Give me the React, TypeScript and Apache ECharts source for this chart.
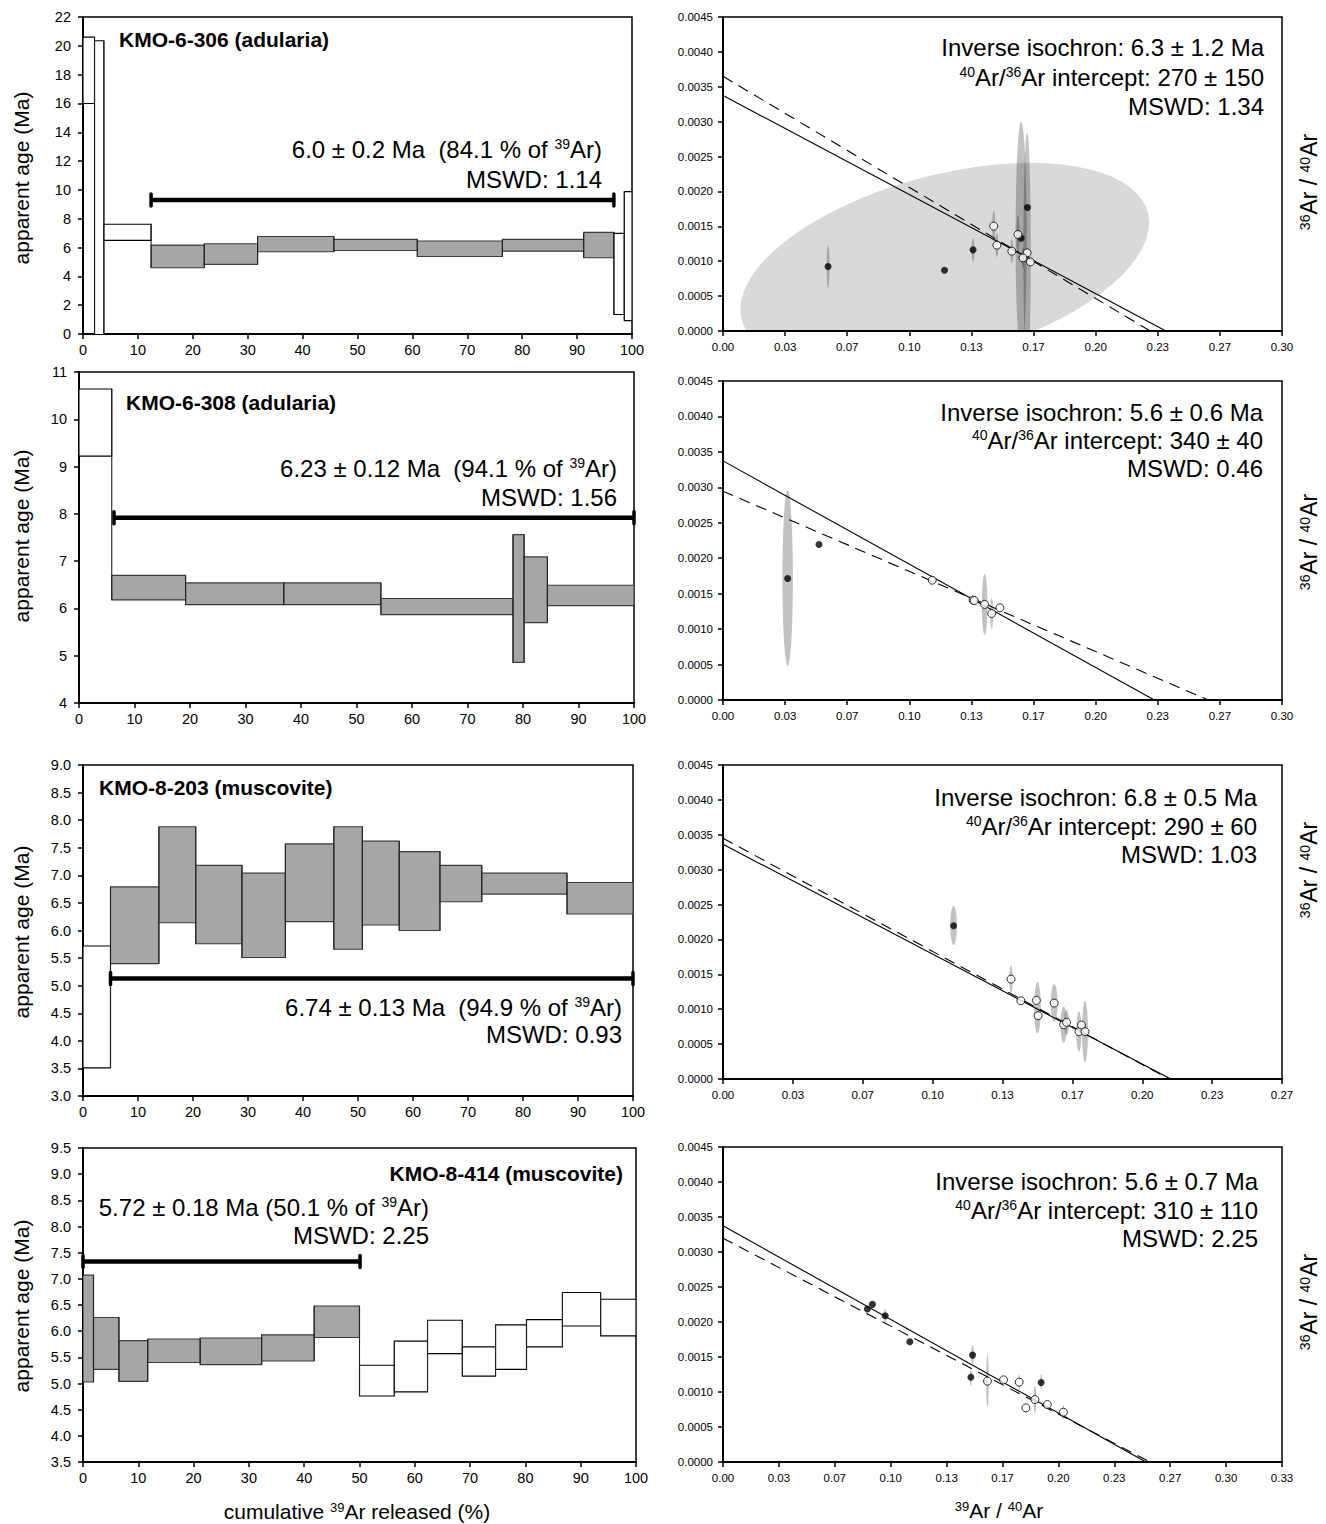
import React, { useEffect, useRef } from "react";
import * as echarts from "echarts";

const FONT = "'Liberation Sans', Arial, Helvetica, sans-serif";

// ---------------- Age spectra (cumulative 39Ar %, age bounds in Ma) ----------------
const s306Cum = [0, 2.1, 3.8, 12.4, 22.1, 31.8, 45.7, 60.9, 76.4, 91.2, 96.7, 98.6, 100];
const s306Low = [16.0, -0.5, 6.5, 4.6, 4.83, 5.71, 5.8, 5.38, 5.75, 5.29, 1.35, 0.93];
const s306High = [20.6, 20.35, 7.62, 6.17, 6.26, 6.77, 6.57, 6.45, 6.57, 7.05, 6.98, 9.88];
const s306InPlateau = [0, 0, 0, 1, 1, 1, 1, 1, 1, 1, 0, 0];
const s306Plateau = [12.4, 96.7, 9.3];

const s308Cum = [0, 5.9, 19.2, 36.9, 54.4, 78.2, 80.2, 84.4, 100];
const s308Low = [9.22, 6.18, 6.08, 6.08, 5.87, 4.86, 5.7, 6.06];
const s308High = [10.64, 6.7, 6.54, 6.54, 6.21, 7.56, 7.09, 6.49];
const s308InPlateau = [0, 1, 1, 1, 1, 1, 1, 1];
const s308Plateau = [6.3, 100, 7.92];

const s203Cum = [0, 5.0, 13.8, 20.5, 28.9, 36.8, 45.6, 50.8, 57.5, 64.9, 72.5, 88.0, 100];
const s203Low = [3.51, 5.4, 6.14, 5.76, 5.51, 6.16, 5.66, 6.1, 6.0, 6.52, 6.66, 6.3];
const s203High = [5.72, 6.79, 7.88, 7.18, 7.04, 7.57, 7.88, 7.62, 7.43, 7.18, 7.04, 6.87];
const s203InPlateau = [0, 1, 1, 1, 1, 1, 1, 1, 1, 1, 1, 1];
const s203Plateau = [5.0, 100, 5.13];

const s414Cum = [0, 1.9, 6.5, 11.7, 21.2, 32.3, 41.8, 50.0, 56.3, 62.3, 68.6, 74.6, 80.2, 86.7, 93.6, 100];
const s414Low = [5.03, 5.27, 5.04, 5.4, 5.36, 5.43, 5.88, 4.76, 4.84, 5.57, 5.14, 5.27, 5.7, 6.1, 5.91];
const s414High = [7.07, 6.26, 5.82, 5.85, 5.87, 5.93, 6.48, 5.35, 5.81, 6.21, 5.7, 6.12, 6.22, 6.74, 6.61];
const s414InPlateau = [1, 1, 1, 1, 1, 1, 1, 0, 0, 0, 0, 0, 0, 0, 0];
const s414Plateau = [0, 50.1, 7.33];

// ---------------- Inverse isochrons (39Ar/40Ar, 36Ar/40Ar) ----------------
// ellipses: [cx, cy, halfWidthX, halfHeightY, correlation]
const i306Wide = [[0.119, 0.00093, 0.1097, 0.00148, 0.42]];
const i306Ellipses = [
  [0.16, 0.00133, 0.003, 0.00167, 0],
  [0.1632, 0.00112, 0.002, 0.00172, 0],
  [0.0564, 0.000924, 0.0008, 0.0003, 0],
  [0.1342, 0.001163, 0.0008, 0.00017, 0],
  [0.1453, 0.001503, 0.0008, 0.00022, 0],
  [0.147, 0.00123, 0.0008, 0.00017, 0],
  [0.155, 0.001144, 0.0008, 0.00017, 0],
  [0.1583, 0.001383, 0.0008, 0.00028, 0],
  [0.161, 0.001048, 0.0008, 0.00015, 0],
];
const i306Filled = [[0.0564, 0.000924], [0.1189, 0.000871], [0.1342, 0.001163], [0.16, 0.001331], [0.1634, 0.001771]];
const i306Open = [[0.1453, 0.001503], [0.147, 0.00123], [0.155, 0.001144], [0.1583, 0.001383], [0.1632, 0.00112], [0.161, 0.001048], [0.165, 0.00099]];
const i306Fit = [[0, 0.003375], [0.2377, 0]];
const i306Ref = [[0, 0.00365], [0.2293, 0]];

const i308Ellipses = [
  [0.0347, 0.00172, 0.0028, 0.00124, 0],
  [0.1404, 0.00135, 0.0015, 0.00043, 0],
  [0.1442, 0.00122, 0.0008, 0.00022, 0],
];
const i308Filled = [[0.0347, 0.001714], [0.0515, 0.002194]];
const i308Open = [[0.1123, 0.00169], [0.1342, 0.00141], [0.1349, 0.001402], [0.1404, 0.001348], [0.1442, 0.001221], [0.1486, 0.001301]];
const i308Fit = [[0, 0.003373], [0.2315, 0]];
const i308Ref = [[0, 0.002945], [0.2604, 0]];

const i203Ellipses = [
  [0.11, 0.0022, 0.0016, 0.00028, 0],
  [0.1374, 0.00143, 0.0008, 0.0002, 0],
  [0.15, 0.00102, 0.0016, 0.00037, 0],
  [0.158, 0.00109, 0.0016, 0.00027, 0],
  [0.1625, 0.00078, 0.0015, 0.00026, 0],
  [0.1639, 0.00081, 0.0012, 0.00018, 0],
  [0.1698, 0.00068, 0.0012, 0.00029, 0],
  [0.1727, 0.00068, 0.0014, 0.00044, 0],
];
const i203Filled = [[0.11, 0.002195]];
const i203Open = [[0.1374, 0.001432], [0.1421, 0.001121], [0.1495, 0.001126], [0.1503, 0.000907], [0.158, 0.001088], [0.1625, 0.000778], [0.1639, 0.000811], [0.1698, 0.000678], [0.171, 0.000773], [0.1727, 0.000678]];
const i203Fit = [[0, 0.003364], [0.2136, 0]];
const i203Ref = [[0, 0.00345], [0.2128, 0]];

const i414Ellipses = [
  [0.1577, 0.00116, 0.0008, 0.00037, 0],
  [0.1488, 0.00153, 0.0008, 0.00014, 0],
  [0.186, 0.00089, 0.0008, 0.0002, 0],
  [0.1766, 0.00114, 0.0006, 0.00011, 0],
  [0.1897, 0.00114, 0.0006, 0.00012, 0],
  [0.1478, 0.00121, 0.0006, 0.00012, 0],
  [0.0967, 0.00209, 0.0006, 0.0001, 0],
  [0.203, 0.00071, 0.0006, 0.0001, 0],
];
const i414Filled = [[0.0861, 0.002186], [0.0891, 0.002252], [0.0967, 0.00209], [0.1114, 0.001718], [0.1488, 0.001527], [0.1478, 0.001212], [0.1897, 0.001136]];
const i414Open = [[0.1577, 0.001155], [0.1673, 0.001174], [0.1766, 0.001141], [0.1806, 0.000773], [0.186, 0.000892], [0.1934, 0.000821], [0.203, 0.000711]];
const i414Fit = [[0, 0.003374], [0.2522, 0]];
const i414Ref = [[0, 0.003197], [0.2546, 0]];

// ---------------- Axis tick setup ----------------
const spectrumYRange = [[0, 22, 2, 0], [4, 11, 1, 0], [3, 9, 0.5, 1], [3.5, 9.5, 0.5, 1]];
const isoXMax = [9 / 30, 9 / 30, 8 / 30, 10 / 30];
const isoXStep = 1 / 30;

// ---------------- Texts ----------------
const sampleNames = ["KMO-6-306 (adularia)", "KMO-6-308 (adularia)", "KMO-8-203 (muscovite)", "KMO-8-414 (muscovite)"];
const plateauTexts = [
  ["6.0 ± 0.2 Ma  (84.1 % of {s|39}Ar)", "MSWD: 1.14"],
  ["6.23 ± 0.12 Ma  (94.1 % of {s|39}Ar)", "MSWD: 1.56"],
  ["6.74 ± 0.13 Ma  (94.9 % of {s|39}Ar)", "MSWD: 0.93"],
  ["5.72 ± 0.18 Ma (50.1 % of {s|39}Ar)", "MSWD: 2.25"],
];
const isoTexts = [
  ["Inverse isochron: 6.3 ± 1.2 Ma", "{s|40}Ar/{s|36}Ar intercept: 270 ± 150", "MSWD: 1.34"],
  ["Inverse isochron: 5.6 ± 0.6 Ma", "{s|40}Ar/{s|36}Ar intercept: 340 ± 40", "MSWD: 0.46"],
  ["Inverse isochron: 6.8 ± 0.5 Ma", "{s|40}Ar/{s|36}Ar intercept: 290 ± 60", "MSWD: 1.03"],
  ["Inverse isochron: 5.6 ± 0.7 Ma", "{s|40}Ar/{s|36}Ar intercept: 310 ± 110", "MSWD: 2.25"],
];

const spectra = [
  { cum: s306Cum, low: s306Low, high: s306High, inP: s306InPlateau, plateau: s306Plateau },
  { cum: s308Cum, low: s308Low, high: s308High, inP: s308InPlateau, plateau: s308Plateau },
  { cum: s203Cum, low: s203Low, high: s203High, inP: s203InPlateau, plateau: s203Plateau },
  { cum: s414Cum, low: s414Low, high: s414High, inP: s414InPlateau, plateau: s414Plateau },
];
const isochrons = [
  { ell: i306Ellipses, wide: i306Wide, filled: i306Filled, open: i306Open, fit: i306Fit, ref: i306Ref },
  { ell: i308Ellipses, wide: [], filled: i308Filled, open: i308Open, fit: i308Fit, ref: i308Ref },
  { ell: i203Ellipses, wide: [], filled: i203Filled, open: i203Open, fit: i203Fit, ref: i203Ref },
  { ell: i414Ellipses, wide: [], filled: i414Filled, open: i414Open, fit: i414Fit, ref: i414Ref },
];

// ---------------- Layout (pixels) ----------------
const LEFT_GRIDS = [
  { left: 83, top: 17, width: 549, height: 317 },
  { left: 79, top: 372, width: 555, height: 331 },
  { left: 83, top: 765, width: 550, height: 331 },
  { left: 83, top: 1148, width: 553, height: 314 },
];
const RIGHT_GRIDS = [
  { left: 723, top: 17, width: 559, height: 314 },
  { left: 723, top: 381, width: 559, height: 319 },
  { left: 723, top: 765, width: 559, height: 314 },
  { left: 723, top: 1147, width: 559, height: 315 },
];
const TITLE_POS = [
  { x: 119, y: 39, align: "left" },
  { x: 126, y: 402, align: "left" },
  { x: 99, y: 787, align: "left" },
  { x: 623, y: 1173, align: "right" },
];
const PLATEAU_TEXT_POS = [
  { x: 602, y: [149, 179] },
  { x: 617, y: [468, 497] },
  { x: 622, y: [1007, 1034] },
  { x: 429, y: [1207, 1235] },
];
const ISO_TEXT_POS = [
  { x: 1264, y: [47, 77, 106] },
  { x: 1263, y: [412, 440, 468] },
  { x: 1257, y: [797, 826, 854] },
  { x: 1258, y: [1181, 1210, 1238] },
];
const LEFT_NAME_Y = [178, 536, 932, 1306];
const RIGHT_NAME_Y = [182, 542, 870, 1302];

function txt(x: number, y: number, text: string, size: number, opts: any = {}) {
  const align = opts.align || "left";
  return {
    type: "text",
    x,
    y,
    rotation: opts.rotation || 0,
    silent: true,
    z: 100,
    style: {
      text,
      fill: "#000",
      fontSize: size,
      fontFamily: FONT,
      fontWeight: opts.bold ? "bold" : "normal",
      align,
      textAlign: align,
      verticalAlign: "middle",
      textVerticalAlign: "middle",
      rich: {
        s: {
          fontSize: Math.round(size * 0.6),
          fontFamily: FONT,
          verticalAlign: "top",
          lineHeight: Math.round(size * 0.55),
          fill: "#000",
        },
      },
    },
  };
}

const stepRender = (params: any, api: any) => {
  const x0 = api.value(0), x1 = api.value(1), lo = api.value(2), hi = api.value(3), f = api.value(4);
  const p0 = api.coord([x0, hi]);
  const p1 = api.coord([x1, lo]);
  return {
    type: "rect",
    shape: { x: p0[0], y: p0[1], width: p1[0] - p0[0], height: p1[1] - p0[1] },
    style: { fill: f ? "#a6a6a6" : "#ffffff", stroke: f ? "#3a3a3a" : "#000", lineWidth: 1.1 },
  };
};
const connectorRender = (params: any, api: any) => {
  const x = api.value(0), lo = api.value(1), hi = api.value(2);
  const a = api.coord([x, lo]);
  const b = api.coord([x, hi]);
  return {
    type: "line",
    shape: { x1: a[0], y1: a[1], x2: b[0], y2: b[1] },
    style: { stroke: "#222", lineWidth: 1.1 },
  };
};
const plateauRender = (params: any, api: any) => {
  const a = api.coord([api.value(0), api.value(2)]);
  const b = api.coord([api.value(1), api.value(2)]);
  return {
    type: "group",
    children: [
      { type: "line", shape: { x1: a[0], y1: a[1], x2: b[0], y2: b[1] }, style: { stroke: "#000", lineWidth: 4.5 } },
      { type: "line", shape: { x1: a[0], y1: a[1] - 6, x2: a[0], y2: a[1] + 6 }, style: { stroke: "#000", lineWidth: 3.5, lineCap: "round" } },
      { type: "line", shape: { x1: b[0], y1: b[1] - 6, x2: b[0], y2: b[1] + 6 }, style: { stroke: "#000", lineWidth: 3.5, lineCap: "round" } },
    ],
  };
};
const ellipseRender = (fill: string) => (params: any, api: any) => {
  const cx = api.value(0), cy = api.value(1), sx = api.value(2), sy = api.value(3), r = api.value(4);
  const k = Math.sqrt(1 - r * r);
  const pts: number[][] = [];
  for (let i = 0; i < 72; i++) {
    const t = (i / 72) * Math.PI * 2;
    pts.push(api.coord([cx + sx * Math.cos(t), cy + sy * (r * Math.cos(t) + k * Math.sin(t))]));
  }
  return { type: "polygon", shape: { points: pts }, style: { fill, stroke: "none" } };
};

function axisCommon(fontSize: number, margin: number) {
  return {
    axisLine: { show: true, onZero: false, lineStyle: { color: "#000", width: 2 } },
    axisTick: { show: true, length: 5, lineStyle: { color: "#000", width: 1.5 } },
    axisLabel: { color: "#000", fontSize, fontFamily: FONT, margin },
    splitLine: { show: false },
  };
}

function buildOption() {
  const grid: any[] = [];
  const xAxis: any[] = [];
  const yAxis: any[] = [];
  const series: any[] = [];
  const graphic: any[] = [];

  for (let r = 0; r < 4; r++) {
    // ---- spectrum ----
    const gi = 2 * r;
    grid.push({ ...LEFT_GRIDS[r], show: true, borderColor: "#000", borderWidth: 1.5, backgroundColor: "transparent" });
    const [ymin, ymax, yint, ydec] = spectrumYRange[r];
    const cx = axisCommon(14.5, 8);
    xAxis.push({ type: "value", gridIndex: gi, min: 0, max: 100, interval: 10, ...cx });
    const cy = axisCommon(14.5, 12);
    yAxis.push({
      type: "value", gridIndex: gi, min: ymin, max: ymax, interval: yint, ...cy,
      axisLabel: { ...cy.axisLabel, formatter: (v: number) => v.toFixed(ydec) },
    });
    const sp = spectra[r];
    const steps = sp.low.map((lo, i) => [sp.cum[i], sp.cum[i + 1], lo, sp.high[i], sp.inP[i]]);
    const conns: number[][] = [];
    for (let i = 0; i < sp.low.length - 1; i++) {
      conns.push([sp.cum[i + 1], Math.min(sp.low[i], sp.low[i + 1]), Math.max(sp.high[i], sp.high[i + 1])]);
    }
    series.push({
      type: "custom", xAxisIndex: gi, yAxisIndex: gi, clip: true, silent: true, z: 2,
      data: steps, encode: { x: [0, 1], y: [2, 3] }, renderItem: stepRender,
    });
    series.push({
      type: "custom", xAxisIndex: gi, yAxisIndex: gi, clip: true, silent: true, z: 3,
      data: conns, encode: { x: 0, y: [1, 2] }, renderItem: connectorRender,
    });
    series.push({
      type: "custom", xAxisIndex: gi, yAxisIndex: gi, clip: false, silent: true, z: 4,
      data: [sp.plateau], encode: { x: [0, 1], y: 2 }, renderItem: plateauRender,
    });

    // ---- isochron ----
    const gj = 2 * r + 1;
    grid.push({ ...RIGHT_GRIDS[r], show: true, borderColor: "#000", borderWidth: 1.5, backgroundColor: "transparent" });
    const ix = axisCommon(11.5, 10);
    xAxis.push({
      type: "value", gridIndex: gj, min: 0, max: isoXMax[r], interval: isoXStep, ...ix,
      axisLabel: { ...ix.axisLabel, formatter: (v: number) => v.toFixed(2) },
    });
    const iy = axisCommon(11.5, 10);
    yAxis.push({
      type: "value", gridIndex: gj, min: 0, max: 0.0045, interval: 0.0005, ...iy,
      axisLabel: { ...iy.axisLabel, formatter: (v: number) => v.toFixed(4) },
    });
    const iso = isochrons[r];
    if (iso.wide.length) {
      series.push({
        type: "custom", xAxisIndex: gj, yAxisIndex: gj, clip: true, silent: true, z: 1,
        data: iso.wide, encode: { x: 0, y: 1 }, renderItem: ellipseRender("rgba(0,0,0,0.15)"),
      });
    }
    series.push({
      type: "custom", xAxisIndex: gj, yAxisIndex: gj, clip: true, silent: true, z: 2,
      data: iso.ell, encode: { x: 0, y: 1 }, renderItem: ellipseRender("rgba(0,0,0,0.24)"),
    });
    series.push({
      type: "line", xAxisIndex: gj, yAxisIndex: gj, data: iso.ref, symbol: "none", silent: true, z: 3,
      lineStyle: { color: "#000", width: 1.1, type: [11, 7] },
    });
    series.push({
      type: "line", xAxisIndex: gj, yAxisIndex: gj, data: iso.fit, symbol: "none", silent: true, z: 3,
      lineStyle: { color: "#000", width: 1.1 },
    });
    series.push({
      type: "scatter", xAxisIndex: gj, yAxisIndex: gj, data: iso.filled, symbol: "circle", symbolSize: 7, silent: true, z: 4,
      itemStyle: { color: "#000" },
    });
    series.push({
      type: "scatter", xAxisIndex: gj, yAxisIndex: gj, data: iso.open, symbol: "circle", symbolSize: 8, silent: true, z: 5,
      itemStyle: { color: "#fff", borderColor: "#000", borderWidth: 1 },
    });

    // ---- texts ----
    const tp = TITLE_POS[r];
    graphic.push(txt(tp.x, tp.y, sampleNames[r], 21, { bold: true, align: tp.align }));
    const pp = PLATEAU_TEXT_POS[r];
    plateauTexts[r].forEach((t, k) => graphic.push(txt(pp.x, pp.y[k], t, 24, { align: "right" })));
    const ip = ISO_TEXT_POS[r];
    isoTexts[r].forEach((t, k) => graphic.push(txt(ip.x, ip.y[k], t, 24, { align: "right" })));
    graphic.push(txt(21, LEFT_NAME_Y[r], "apparent age (Ma)", 21, { align: "center", rotation: Math.PI / 2 }));
    graphic.push(txt(1309, RIGHT_NAME_Y[r], "{s|36}Ar / {s|40}Ar", 23, { align: "center", rotation: Math.PI / 2 }));
  }
  graphic.push(txt(357, 1511, "cumulative {s|39}Ar released (%)", 21, { align: "center" }));
  graphic.push(txt(999, 1510, "{s|39}Ar / {s|40}Ar", 21, { align: "center" }));

  return { animation: false, backgroundColor: "#fff", grid, xAxis, yAxis, series, graphic };
}

export default function App() {
  const ref = useRef<HTMLDivElement>(null);
  useEffect(() => {
    document.body.style.margin = "0";
    const chart = echarts.init(ref.current!, null, { renderer: "svg" });
    chart.setOption(buildOption() as any);
    return () => chart.dispose();
  }, []);
  return <div ref={ref} style={{ width: 1326, height: 1524 }} />;
}
